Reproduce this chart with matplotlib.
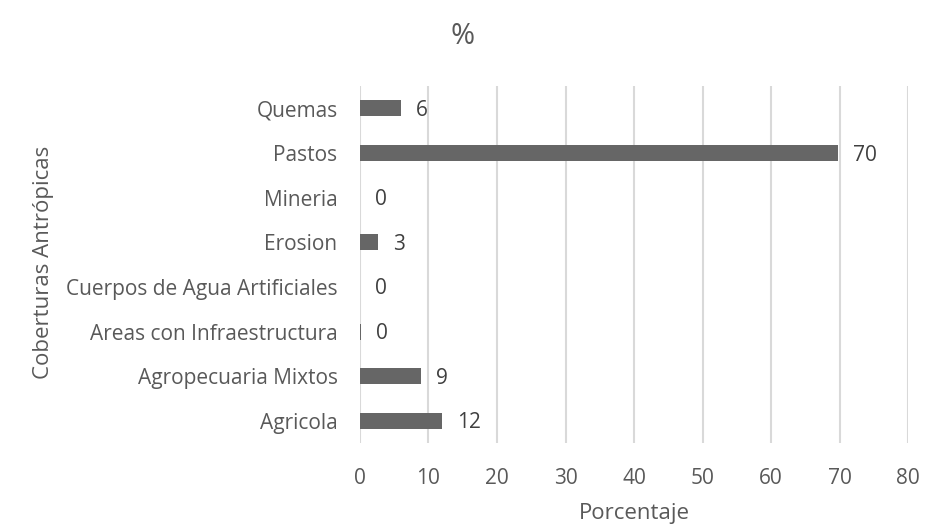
import numpy as np
import matplotlib.pyplot as plt

plt.rcParams['font.family'] = ['Open Sans', 'DejaVu Sans']

categorias = ["Agricola", "Agropecuaria Mixtos", "Areas con Infraestructura",
              "Cuerpos de Agua Artificiales", "Erosion", "Mineria", "Pastos", "Quemas"]
valores = [12.0, 8.9, 0.2, 0.0, 2.6, 0.0, 69.8, 6.0]
etiquetas = ["12", "9", "0", "0", "3", "0", "70", "6"]

gris = "#595959"

fig = plt.figure(figsize=(9.25, 5.25), dpi=100)
ax = fig.add_axes([0.389, 0.156, 0.593, 0.68])

y = np.arange(len(categorias))
ax.barh(y, valores, height=0.36, color="#666666", zorder=3)

# etiquetas de valor a la derecha de cada barra
for yi, v, t in zip(y, valores, etiquetas):
    ax.annotate(t, (v, yi), xytext=(15, -2), textcoords="offset pixels",
                ha="left", va="center", fontsize=15, color="#404040")

ax.set_xlim(0, 80)
ax.set_ylim(-0.5, len(categorias) - 0.5)
ax.set_xticks(np.arange(0, 81, 10))
ax.set_yticks(y)
ax.set_yticklabels(categorias)

ax.grid(axis="x", color="#d9d9d9", linewidth=1.5, zorder=0)
for s in ax.spines.values():
    s.set_visible(False)
ax.tick_params(axis="both", length=0, labelsize=15, labelcolor=gris)
ax.tick_params(axis="x", pad=18)
ax.tick_params(axis="y", pad=16)

ax.set_xlabel("Porcentaje", fontsize=16, color=gris, labelpad=10)
fig.text(0.036, 0.5, "Coberturas Antrópicas", rotation=90, fontsize=16,
         color=gris, ha="left", va="center")
fig.text(0.5, 0.93, "%", fontsize=21, color=gris, ha="center", va="center")

fig.savefig("out.png", dpi=100)
